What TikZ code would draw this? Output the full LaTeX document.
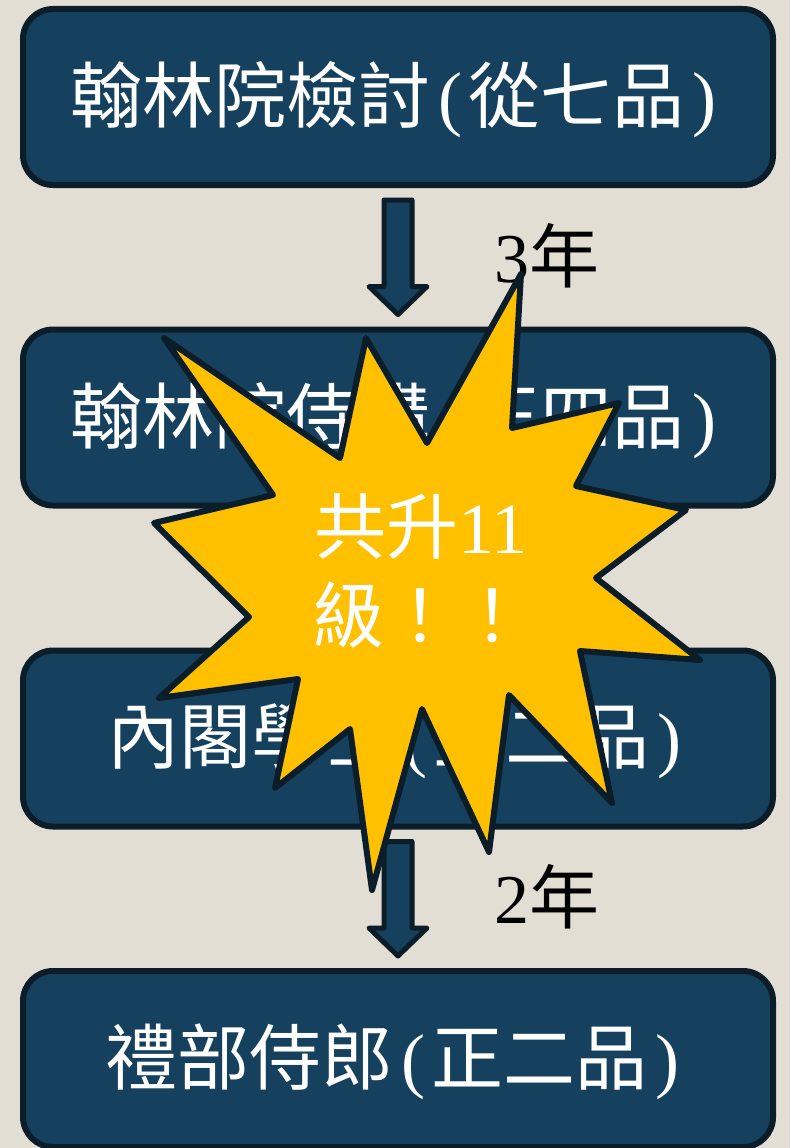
\documentclass[tikz,border=0pt]{standalone}
\usepackage{fontspec}
\setmainfont{Liberation Serif}
\newfontfamily\cjk{Noto Sans CJK TC}
\usetikzlibrary{calc}
\definecolor{bgcol}{HTML}{E3DED3}
\definecolor{boxfill}{HTML}{16415E}
\definecolor{edgecol}{HTML}{0B1D29}
\definecolor{starfill}{HTML}{FFC000}
\newcommand\lpar{\hspace{8pt}(\hspace{6pt}}
\newcommand\rpar{\hspace{8pt})}
\newcommand\blockarr[2]{%
  \path ($(#1.south)+(0,12)$) coordinate (ba-s)
        ($(#2.north)+(0,-12)$) coordinate (ba-t);
  \draw[blockarrow] ($(ba-s)+(-14,0)$) -- ($(ba-s)+(14,0)$)
     -- ($(ba-t)+(14,-28)$) -- ($(ba-t)+(29,-28)$) -- (ba-t)
     -- ($(ba-t)+(-29,-28)$) -- ($(ba-t)+(-14,-28)$) -- cycle;}
\begin{document}
\begin{tikzpicture}[x=1pt,y=-1pt,
  stagebox/.style={draw=edgecol, fill=boxfill, line width=6pt, rounded corners=30pt,
    minimum width=750pt, minimum height=176pt, inner sep=0pt, text=white,
    font=\fontsize{72}{80}\selectfont},
  stagetext/.style={text=white, inner sep=0pt, font=\fontsize{72}{80}\selectfont},
  blockarrow/.style={draw=edgecol, fill=boxfill, line width=5pt, line join=round},
  yearlabel/.style={text=black, inner sep=0pt, font=\fontsize{70}{80}\selectfont},
  burst/.style={draw=edgecol, fill=starfill, line width=6pt, line join=round},
  bursttext/.style={text=white, inner sep=0pt, anchor=base west, font=\fontsize{72}{80}\selectfont}]
\fill[bgcol] (0,0) rectangle (790,1148);
\useasboundingbox (0,0) rectangle (790,1148);
\node[stagebox] (b1) at (398,97) {};
\node[stagebox] (b2) at (398,417.5) {};
\node[stagebox] (b3) at (398,738.5) {};
\node[stagebox] (b4) at (398,1059) {};
\node[stagetext] (t1) at ($(b1.center)+(-5,3)$) {{\cjk 翰林院檢討}\lpar{\cjk 從七品}\rpar};
\node[stagetext] (t2) at ($(b2.center)+(-5,3)$) {{\cjk 翰林院侍講}\lpar{\cjk 正四品}\rpar};
\node[stagetext] (t3) at ($(b3.center)+(-4,3)$) {{\cjk 內閣學士}\lpar{\cjk 正二品}\rpar};
\node[stagetext] (t4) at ($(b4.center)+(-6,3)$) {{\cjk 禮部侍郎}\lpar{\cjk 正二品}\rpar};
\blockarr{b1}{b2}
\blockarr{b3}{b4}
\node[yearlabel] (y1) at (547,256) {3{\cjk 年}};
\node[yearlabel] (y2) at (547,897) {2{\cjk 年}};
\draw[burst] (164,338) -- (340,458) -- (366,338) -- (427,443) -- (521,274)
  -- (512,428) -- (619,403) -- (576,486) -- (686,510) -- (596,578)
  -- (700,660) -- (580,651) -- (612,803) -- (509,695) -- (489,852)
  -- (422,709) -- (372,890) -- (350,729) -- (275,788) -- (298,679)
  -- (159,698) -- (249,617) -- (154,523) -- (273,495) -- cycle;
\node[bursttext] (s1) at (314,553) {{\cjk 共升}11};
\node[bursttext] (s2) at (312,642) {{\cjk 級！！}};
\end{tikzpicture}
\end{document}
